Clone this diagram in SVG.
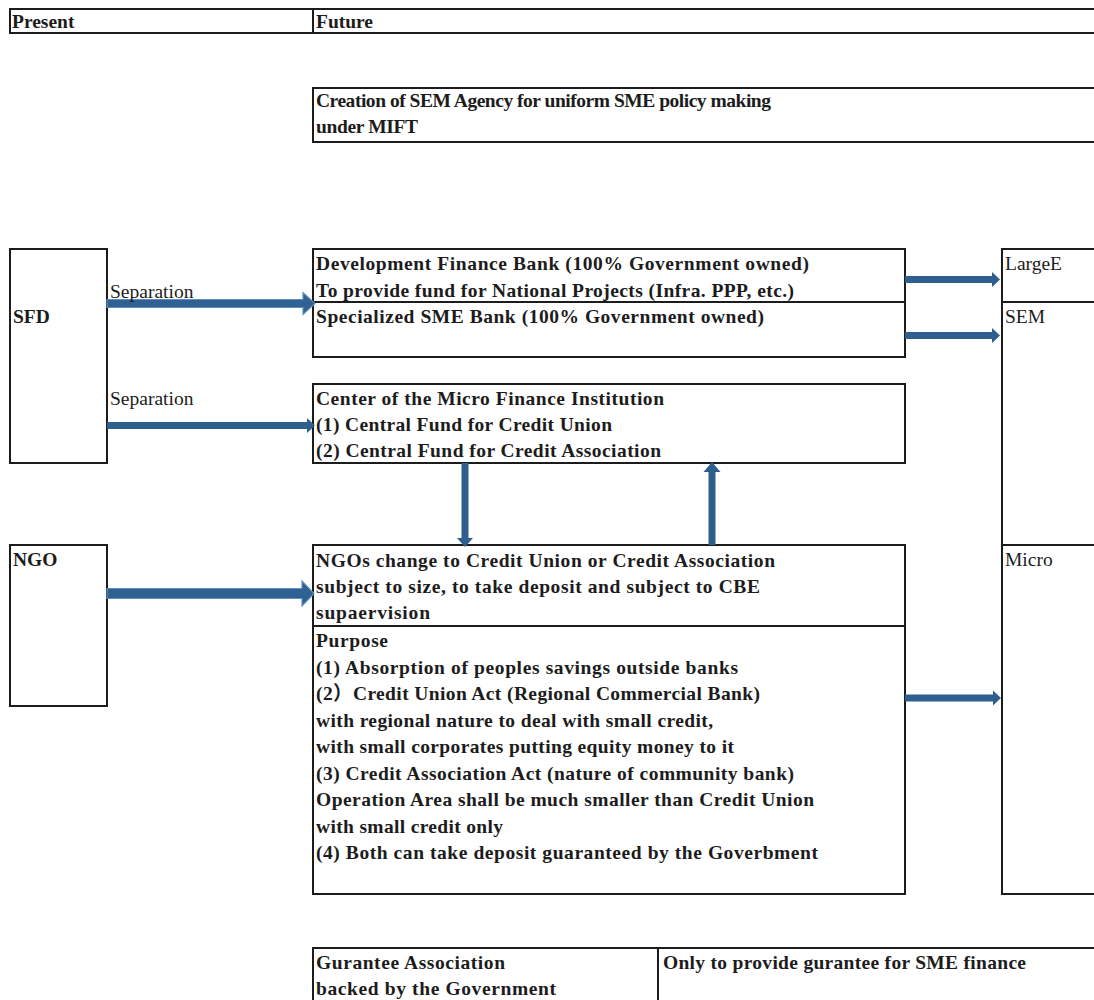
<svg xmlns="http://www.w3.org/2000/svg" width="1094" height="1000" viewBox="0 0 1094 1000">
<style>
.ln{fill:none;stroke:#1c1c1c;stroke-width:2}
.b{font-family:"Liberation Serif","Times New Roman","Noto Sans CJK JP",serif;font-weight:bold;font-size:19.5px;fill:#1c1c1c}
.r{font-family:"Liberation Serif","Times New Roman",serif;font-size:19.5px;fill:#1c1c1c}
.ar{fill:#2e5f8e}
.ar2{fill:#2f6193;stroke:#5d8dc2;stroke-width:1.2}
</style>
<rect width="1094" height="1000" fill="#fff"/>
<g id="header">
<path class="ln" d="M1094 9H10V33H1094M313 9V33"/>
<text class="b" x="12" y="28">Present</text>
<text class="b" x="316" y="28" textLength="57">Future</text>
</g>
<g id="sem-agency">
<path class="ln" d="M1094 88H313V142H1094"/>
<text class="b" x="316" y="107" textLength="455">Creation of SEM Agency for uniform SME policy making</text>
<text class="b" x="316" y="133" textLength="102">under MIFT</text>
</g>
<g id="sfd">
<rect class="ln" x="10" y="249" width="97" height="214"/>
<text class="b" x="13" y="323">SFD</text>
</g>
<g id="ngo">
<rect class="ln" x="10" y="545" width="97" height="161"/>
<text class="b" x="13" y="566">NGO</text>
</g>
<g id="banks">
<rect class="ln" x="313" y="249" width="592" height="108"/>
<path class="ln" d="M313 302H905"/>
<text class="b" x="316" y="270" textLength="493">Development Finance Bank (100% Government owned)</text>
<text class="b" x="316" y="297" textLength="478">To provide fund for National Projects (Infra. PPP, etc.)</text>
<text class="b" x="316" y="323" textLength="448">Specialized SME Bank (100% Government owned)</text>
</g>
<g id="micro-center">
<rect class="ln" x="313" y="384" width="592" height="79"/>
<text class="b" x="316" y="405" textLength="348">Center of the Micro Finance Institution</text>
<text class="b" x="316" y="431" textLength="296">(1) Central Fund for Credit Union</text>
<text class="b" x="316" y="457" textLength="345">(2) Central Fund for Credit Association</text>
</g>
<g id="ngos-change">
<rect class="ln" x="313" y="545" width="592" height="349"/>
<path class="ln" d="M313 626H905"/>
<text class="b" x="316" y="567" textLength="459">NGOs change to Credit Union or Credit Association</text>
<text class="b" x="316" y="593" textLength="444">subject to size, to take deposit and subject to CBE</text>
<text class="b" x="316" y="619" textLength="114">supaervision</text>
<text class="b" x="316" y="647" textLength="72">Purpose</text>
<text class="b" x="316" y="673.5" textLength="422">(1) Absorption of peoples savings outside banks</text>
<text class="b" x="316" y="700" textLength="444">(2）Credit Union Act (Regional Commercial Bank)</text>
<text class="b" x="316" y="726.5" textLength="397">with regional nature to deal with small credit,</text>
<text class="b" x="316" y="753" textLength="418">with small corporates putting equity money to it</text>
<text class="b" x="316" y="779.5" textLength="478">(3) Credit Association Act (nature of community bank)</text>
<text class="b" x="316" y="806" textLength="498">Operation Area shall be much smaller than Credit Union</text>
<text class="b" x="316" y="832.5" textLength="187">with small credit only</text>
<text class="b" x="316" y="859" textLength="502">(4) Both can take deposit guaranteed by the Goverbment</text>
</g>
<g id="targets">
<path class="ln" d="M1094 249H1002V894H1094M1002 302H1094M1002 545H1094"/>
<text class="r" x="1005" y="270">LargeE</text>
<text class="r" x="1005" y="323">SEM</text>
<text class="r" x="1005" y="566">Micro</text>
</g>
<g id="guarantee">
<path class="ln" d="M313 1000V948H1094M658 948V1000"/>
<text class="b" x="316" y="969" textLength="189">Gurantee Association</text>
<text class="b" x="316" y="995" textLength="240">backed by the Government</text>
<text class="b" x="663" y="969" textLength="363">Only to provide gurantee for SME finance</text>
</g>
<g id="connectors">
<path class="ar2" d="M107 299.5H303V292.5L315 303.5L303 314.5V307.5H107Z"/>
<text class="r" x="110" y="298">Separation</text>
<path class="ar" d="M107 422H307V418L315 425.5L307 433V429H107Z"/>
<text class="r" x="110" y="405">Separation</text>
<path class="ar2" d="M107 588.5H302V581L314 593.5L302 606V598.5H107Z" stroke-width="2"/>
<path class="ar" d="M905 276H992V272L1000 279.5L992 287V283H905Z"/>
<path class="ar" d="M905 332H992V328L1000 335.5L992 343V339H905Z"/>
<path class="ar" d="M905 694.5H993V690.5L1001 698L993 705.5V701.5H905Z"/>
<path class="ar" d="M461.5 463H468.5V538H473L465 547L457 538H461.5Z"/>
<path class="ar" d="M708.5 545H715.5V472H720.5L712 462L703.5 472H708.5Z"/>
</g>
</svg>
